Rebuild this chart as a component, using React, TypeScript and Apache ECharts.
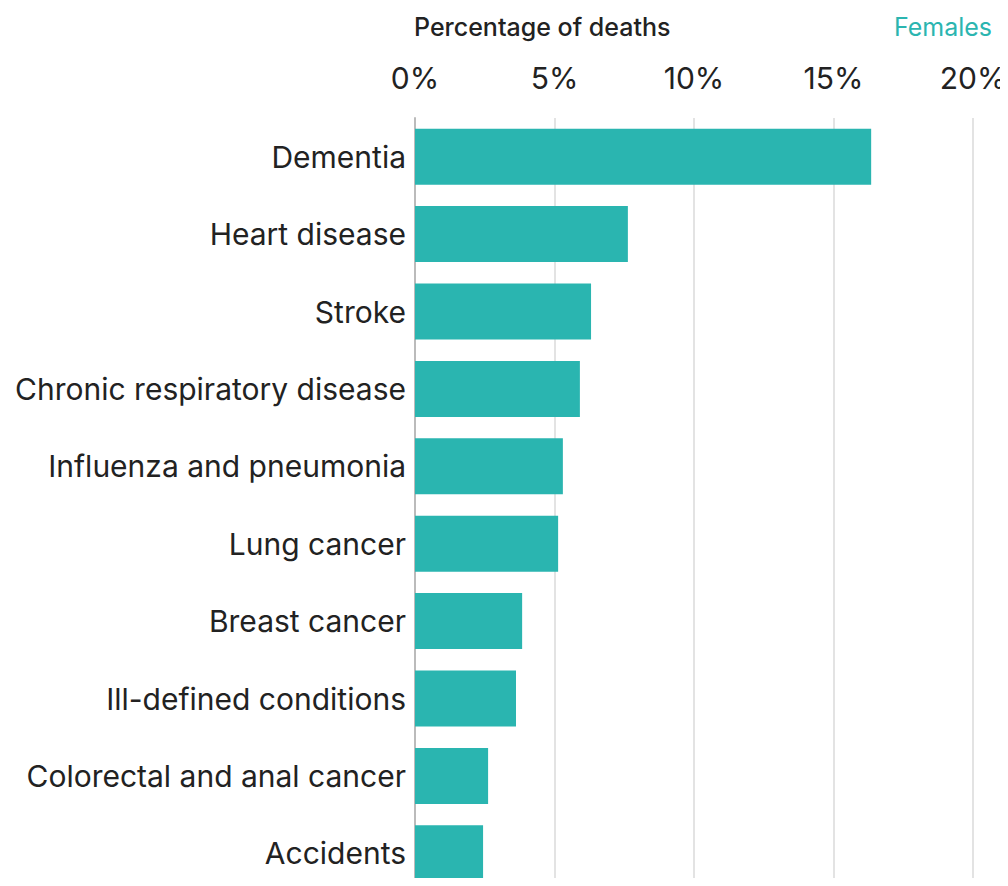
import React, { useEffect, useRef } from "react";
import * as echarts from "echarts";

const categories = [
  "Dementia",
  "Heart disease",
  "Stroke",
  "Chronic respiratory disease",
  "Influenza and pneumonia",
  "Lung cancer",
  "Breast cancer",
  "Ill-defined conditions",
  "Colorectal and anal cancer",
  "Accidents",
];
const femaleValues = [16.35, 7.63, 6.31, 5.91, 5.3, 5.13, 3.84, 3.62, 2.62, 2.44];
const tickValues = [0, 5, 10, 15, 20];

const FONT = "Inter, 'Liberation Sans', Arial, sans-serif";

export default function App() {
  const ref = useRef<HTMLDivElement>(null);
  useEffect(() => {
    if (!ref.current) return;
    const chart = echarts.init(ref.current, undefined, { renderer: "svg" });
    chart.setOption({
      animation: false,
      textStyle: { fontFamily: FONT },
      graphic: [
        {
          type: "text",
          left: 414,
          top: 14,
          style: { text: "Percentage of deaths", font: `500 25px ${FONT}`, fill: "#222" },
        },
        {
          type: "text",
          right: 16,
          top: 14,
          style: { text: "Females", font: `25px ${FONT}`, fill: "#2bb5b0" },
        },
      ],
      grid: { left: 415, top: 118, width: 558, height: 774, outerBoundsMode: "none", containLabel: false },
      xAxis: {
        type: "value",
        position: "top",
        min: tickValues[0],
        max: tickValues[tickValues.length - 1],
        interval: 5,
        axisLine: { show: false },
        axisTick: { show: false },
        axisLabel: {
          formatter: "{value}%",
          fontSize: 30,
          color: "#222",
          margin: 25,
          fontFamily: FONT,
        },
        splitLine: { lineStyle: { color: "#e3e3e3", width: 2 } },
      },
      yAxis: {
        type: "category",
        inverse: true,
        data: categories,
        axisLine: { show: true, lineStyle: { color: "#bbbbbb", width: 2 } },
        axisTick: { show: false },
        axisLabel: { fontSize: 30, color: "#222", margin: 9, fontFamily: FONT },
      },
      series: [
        {
          type: "bar",
          data: femaleValues,
          barWidth: 56,
          itemStyle: { color: "#2ab5b0" },
        },
      ],
    });
    return () => chart.dispose();
  }, []);
  return <div ref={ref} style={{ width: 1008, height: 886, margin: -8 }} />;
}
